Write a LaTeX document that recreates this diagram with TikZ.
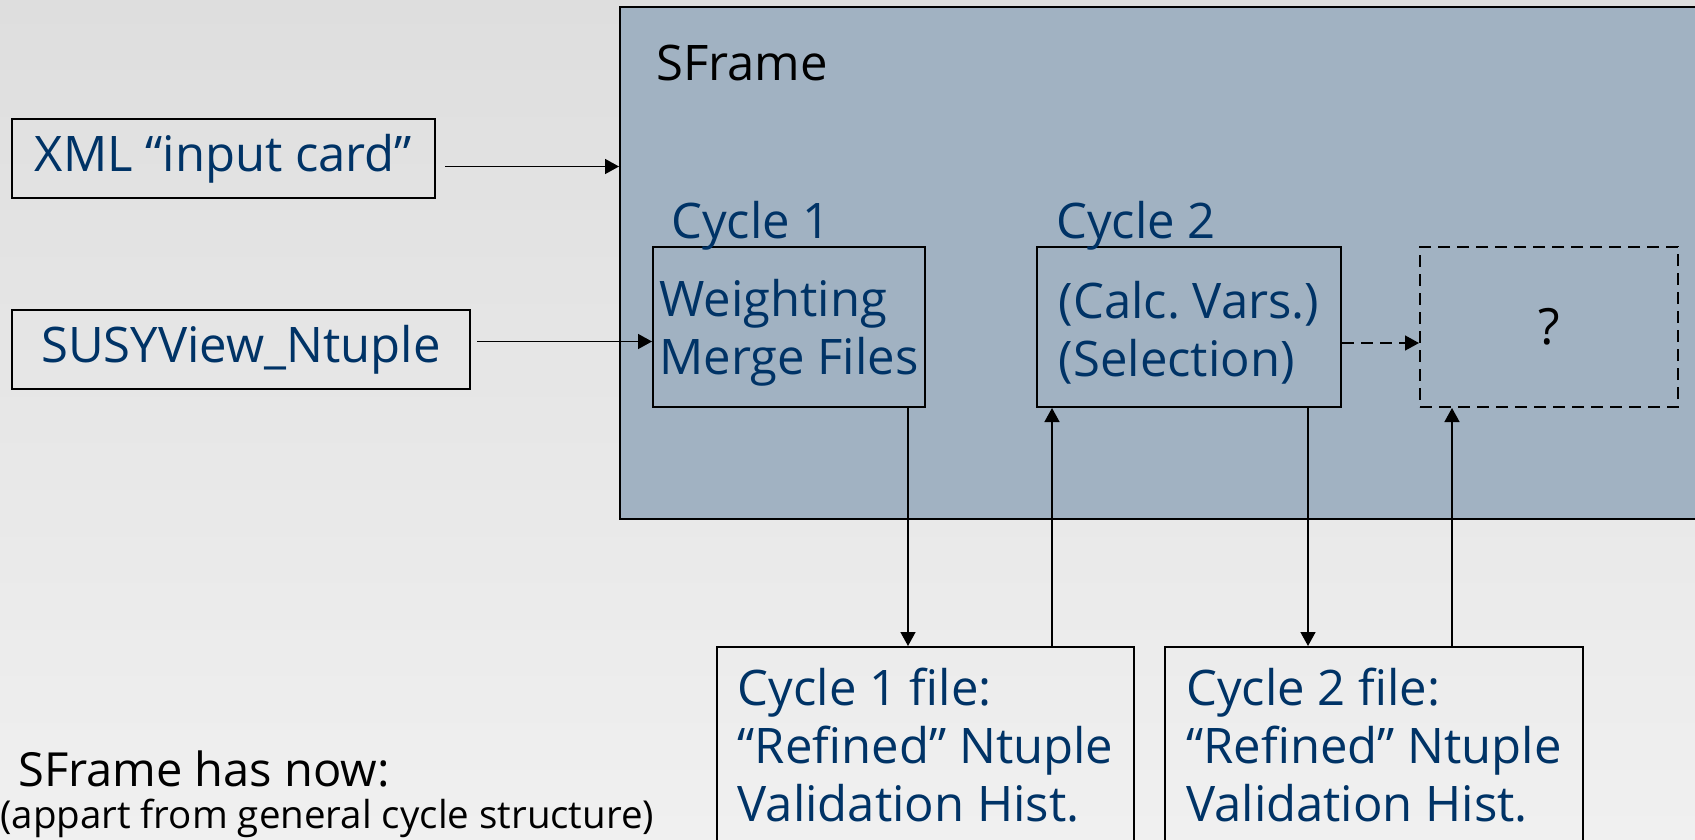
\documentclass[tikz,border=0pt]{standalone}
\usepackage{fontspec}
\setmainfont{Open Sans}
\usetikzlibrary{arrows.meta}
\definecolor{bgtop}{RGB}{222,222,222}
\definecolor{bgbot}{RGB}{240,240,240}
\definecolor{framefill}{RGB}{161,178,194}
\definecolor{ink}{RGB}{0,51,102}
\frenchspacing
% lowers a two-line block a little inside its box
\newcommand{\lowerstrut}{\rule{0pt}{49pt}}
\begin{document}
\begin{tikzpicture}[x=1pt,y=-1pt,
  box/.style={draw=black, line width=2pt, inner sep=0pt},
  bluetext/.style={text=ink, font=\fontsize{49}{58}\selectfont},
  plaintext/.style={inner sep=0pt, font=\fontsize{48}{56}\selectfont},
  arr/.style={-{Triangle[length=14pt,width=15pt]}, line width=1.5pt},
  dashbox/.style={draw=black, line width=2pt, dash pattern=on 12pt off 7pt},
]
\useasboundingbox (0,0) rectangle (1695,839);
\shade[top color=bgtop,bottom color=bgbot] (0,0) rectangle (1695,839);

% the SFrame job frame
\node[box, fill=framefill, anchor=north west, minimum width=1120pt, minimum height=512pt] (sframe) at (619,6) {};
\node[plaintext, anchor=west, font=\fontsize{49}{56}\selectfont] (title) at (656,63) {SFrame};

% inputs
\node[box, bluetext, minimum width=423pt, minimum height=79pt] (xml) at (223.5,158.5) {XML “input card”};
\node[box, bluetext, minimum width=458pt, minimum height=79pt] (susy) at (241,349.5) {SUSYView\_Ntuple};

% cycles
\node[box, bluetext, anchor=north west, minimum width=272pt, minimum height=160pt,
      align=left] (c1) at (652,246) {\lowerstrut Weighting\\Merge Files};
\node[box, bluetext, anchor=north west, minimum width=304pt, minimum height=160pt,
      align=left] (c2) at (1036,246) {\lowerstrut(Calc. Vars.)\\(Selection)};
\node[dashbox, anchor=north west, minimum width=258pt, minimum height=160pt,
      font=\fontsize{50}{56}\selectfont] (q) at (1419,246) {?};
\node[bluetext, inner sep=0pt, anchor=base west] (c1lab) at (671,238) {Cycle 1};
\node[bluetext, inner sep=0pt, anchor=base west] (c2lab) at (1056,238) {Cycle 2};

% output files
\node[box, bluetext, anchor=north west, minimum width=417pt, minimum height=196pt,
      align=left] (f1) at (716,646)
      {Cycle 1 file:\\“Refined” Ntuple\\Validation Hist.};
\node[box, bluetext, anchor=north west, minimum width=418pt, minimum height=196pt,
      align=left] (f2) at (1164,646)
      {Cycle 2 file:\\“Refined” Ntuple\\Validation Hist.};

% summary
\node[plaintext, anchor=west, font=\fontsize{47}{56}\selectfont] (has) at (18,769) {SFrame has now:};
\node[plaintext, anchor=west, font=\fontsize{38.5}{46}\selectfont] (appart) at (0,818)
      {(appart from general cycle structure)};

% connectors
\coordinate (xa) at ([xshift=9pt,yshift=-8pt]xml.east);
\draw[arr] (xa) -- (xa -| sframe.west);
\coordinate (sa) at ([xshift=6pt,yshift=8pt]susy.east);
\draw[arr] (sa) -- (sa -| c1.west);
\coordinate (ca) at ([yshift=-16pt]c2.east);
\draw[arr, dash pattern=on 12pt off 7pt] (ca) -- (ca -| q.west);
\coordinate (d1) at ([xshift=256pt]c1.south west);
\draw[arr] (d1) -- (d1 |- f1.north);
\coordinate (u1) at ([xshift=336pt]f1.north west);
\draw[arr] (u1) -- (u1 |- c2.south);
\coordinate (d2) at ([xshift=272pt]c2.south west);
\draw[arr] (d2) -- (d2 |- f2.north);
\coordinate (u2) at ([xshift=288pt]f2.north west);
\draw[arr] (u2) -- (u2 |- q.south);
\end{tikzpicture}
\end{document}
